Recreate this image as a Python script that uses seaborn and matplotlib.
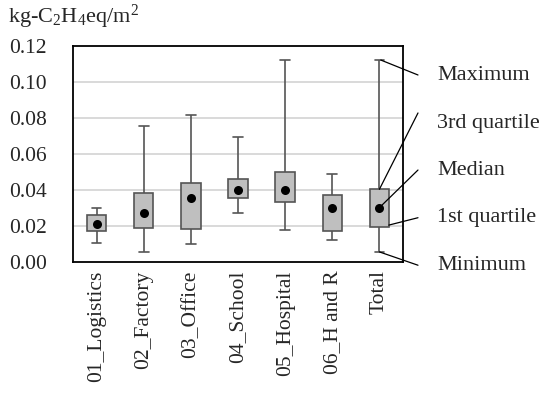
import numpy as np
import pandas as pd
import matplotlib
matplotlib.use("Agg")
import matplotlib.pyplot as plt
import seaborn as sns

categories = ["01_Logistics", "02_Factory", "03_Office", "04_School",
              "05_Hospital", "06_H and R", "Total"]
minimum = [0.0107, 0.0054, 0.0098, 0.0270, 0.0178, 0.0120, 0.0056]
q1 = [0.0172, 0.0187, 0.0183, 0.0354, 0.0335, 0.0170, 0.0193]
median = [0.0213, 0.0274, 0.0357, 0.0400, 0.0402, 0.0302, 0.0302]
q3 = [0.0261, 0.0385, 0.0441, 0.0463, 0.0500, 0.0374, 0.0404]
maximum = [0.0302, 0.0756, 0.0817, 0.0696, 0.1122, 0.0487, 0.1122]
yticks = [0.00, 0.02, 0.04, 0.06, 0.08, 0.10, 0.12]
ylabel = r"kg-C$\mathregular{_2}$H$\mathregular{_4}$eq/m$\mathregular{^2}$"
legend_labels = ["Maximum", "3rd quartile", "Median", "1st quartile", "Minimum"]

# five summary values per category -> exact quartiles with linear percentiles
rows = []
for c, a, b, m, d, e in zip(categories, minimum, q1, median, q3, maximum):
    for v in (a, b, m, d, e):
        rows.append({"cat": c, "val": v})
df = pd.DataFrame(rows)
med_df = pd.DataFrame({"cat": categories, "val": median})

sns.set_style("white")
plt.rcParams["font.family"] = ["Liberation Serif", "DejaVu Serif"]
plt.rcParams["mathtext.fontset"] = "custom"
plt.rcParams["mathtext.rm"] = "Liberation Serif"

fig = plt.figure(figsize=(5.5, 3.96), dpi=100)
ax = fig.add_axes([0.1327, 0.3384, 0.6, 0.5454])

edge = "#555555"
sns.boxplot(data=df, x="cat", y="val", order=categories, whis=np.inf,
            width=0.41, color="#bfbfbf", linecolor=edge, linewidth=1.2,
            saturation=1, showfliers=False,
            medianprops=dict(visible=False), ax=ax)
sns.stripplot(data=med_df, x="cat", y="val", order=categories, jitter=False,
              color="black", size=6.5, ax=ax, zorder=5)

ax.set_ylim(0, 0.12)
ax.set_xlim(-0.5, 6.5)
ax.set_yticks(yticks)
ax.set_yticklabels([f"{t:.2f}" for t in yticks], fontsize=15.5)
ax.set_xticks(range(len(categories)))
ax.set_xticklabels(categories, rotation=90, fontsize=15.5)
ax.tick_params(axis="y", length=0, pad=19)
ax.tick_params(axis="x", length=0, pad=6)
ax.set_xlabel("")
ax.set_ylabel("")
for t in yticks[1:-1]:
    ax.axhline(t, color="#d9d9d9", lw=1.4, zorder=0)
for s in ax.spines.values():
    s.set_color("black")
    s.set_linewidth(1.3)

fig.text(8 / 550, 1 - 17 / 396, ylabel, fontsize=16, va="center", ha="left")

# annotation leader lines for the Total box
ti = len(categories) - 1
starts = [(ti + 0.03, maximum[-1]), (ti, q3[-1]), (ti, median[-1]),
          (ti + 0.2, q1[-1] + 0.0012), (ti, minimum[-1])]
ends = [0.1039, 0.0828, 0.0511, 0.0246, -0.0018]
texty = [0.1036, 0.0772, 0.0511, 0.0245, -0.0018]
xend = (418 - 73) / 330
xtext = (437 - 73) / 330
for lab, st, en, ty in zip(legend_labels, starts, ends, texty):
    ax.annotate("", xy=st, xycoords="data", xytext=(xend, en),
                textcoords=("axes fraction", "data"),
                arrowprops=dict(arrowstyle="-", color="black", lw=0.9,
                                shrinkA=0, shrinkB=0))
    ax.annotate(lab, xy=(xtext, ty), xycoords=("axes fraction", "data"),
                fontsize=16, va="center", ha="left", annotation_clip=False)

fig.savefig("out.png", dpi=100)
